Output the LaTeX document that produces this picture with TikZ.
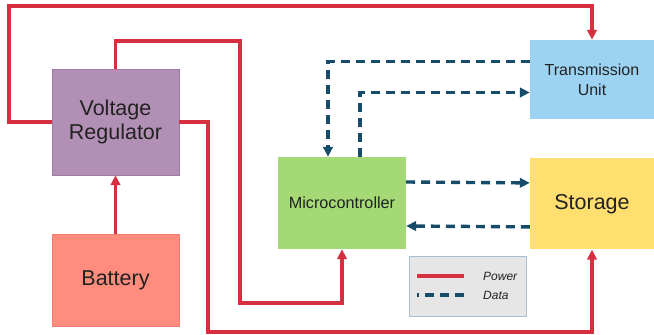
\documentclass[tikz,border=0pt]{standalone}
\usepackage{fontspec}
\setmainfont{Liberation Sans}
\usepackage{xcolor}
\definecolor{vreg}{HTML}{B28FB5}
\definecolor{vregline}{HTML}{A07AA8}
\definecolor{batt}{HTML}{FF8C7D}
\definecolor{battline}{HTML}{F07C74}
\definecolor{micro}{HTML}{A4D976}
\definecolor{trans}{HTML}{9DD3F2}
\definecolor{store}{HTML}{FFDF6F}
\definecolor{powred}{HTML}{D63040}
\definecolor{datablue}{HTML}{164B69}
\definecolor{legfill}{HTML}{E6E6E6}
\definecolor{legline}{HTML}{A8BED2}
\definecolor{darkgray}{HTML}{222222}
\usepackage{tikz}
\usetikzlibrary{positioning,arrows.meta}

\begin{document}
\begin{tikzpicture}[x=1pt, y=-1pt, node distance = 39pt,
    block/.style={
    	rectangle, inner sep = 0pt, text = darkgray, align = center,
    	font = \fontsize{21.5}{24}\selectfont},
    power/.style={draw = powred, line width = 3.2pt},
    data/.style={draw = datablue, line width = 3.4pt, dash pattern = on 9pt off 6pt},
    tip/.style={-{Triangle[length=10pt,width=9.5pt]}}]
    	\useasboundingbox (0,0) rectangle (654,335);
    	% boxes
    	\node (R) [block, fill = vreg, draw = vregline, minimum width = 127pt, minimum height = 106pt] at (115.5,122) {Voltage\\Regulator};
    	\node (B) [block, fill = batt, draw = battline, minimum width = 127pt, minimum height = 92pt, below=59pt of R] {Battery};
    	\node (M) [block, fill = micro, minimum width = 128pt, minimum height = 92pt, font = \fontsize{16.2}{19}\selectfont] at (342,203) {Microcontroller};
    	\node (T) [block, fill = trans, minimum width = 124pt, minimum height = 79pt, font = \fontsize{16}{20}\selectfont] at (592,79.5) {Transmission\\Unit};
    	\node (S) [block, fill = store, minimum width = 124pt, minimum height = 91pt, below=of T] {Storage};
    	% power lines
    	\draw[power, tip] (B.north) -- (R.south);
    	\draw[power, tip] (R.west) -| (9,6) -| (T.north);
    	\draw[power, tip] (R.north) |- (240,41) -- (240,303) -| (M.south);
    	\draw[power, tip] (R.east) -| (208,332) -| (S.south);
    	% data lines
    	\draw[data, tip] ([yshift=18pt]T.west) -| ([xshift=-14pt]M.north);
    	\draw[data, tip] ([xshift=18pt]M.north) |- ([yshift=-13pt]T.west);
    	\draw[data, tip] ([yshift=21pt]M.east) -- ([yshift=21pt]S.west);
    	\draw[data, tip] ([yshift=-23pt]S.west) -- ([yshift=-23pt]M.east);
    	% legend
    	\node (L) [rectangle, fill = legfill, draw = legline, thick, minimum width = 117pt, minimum height = 60pt] at (467.5,286) {};
    	\node (P) [anchor=west, inner sep = 0pt, font = \fontsize{12}{14}\selectfont\itshape, text = darkgray] at (483,276) {Power};
    	\node (D) [anchor=west, inner sep = 0pt, font = \fontsize{12}{14}\selectfont\itshape, text = darkgray] at (483,295) {Data};
    	\draw[power] ([xshift=-19pt]P.west) -- ++(-47,0);
    	\draw[data] ([xshift=-19pt]D.west) -- ++(-47,0);
	\end{tikzpicture}
\end{document}
